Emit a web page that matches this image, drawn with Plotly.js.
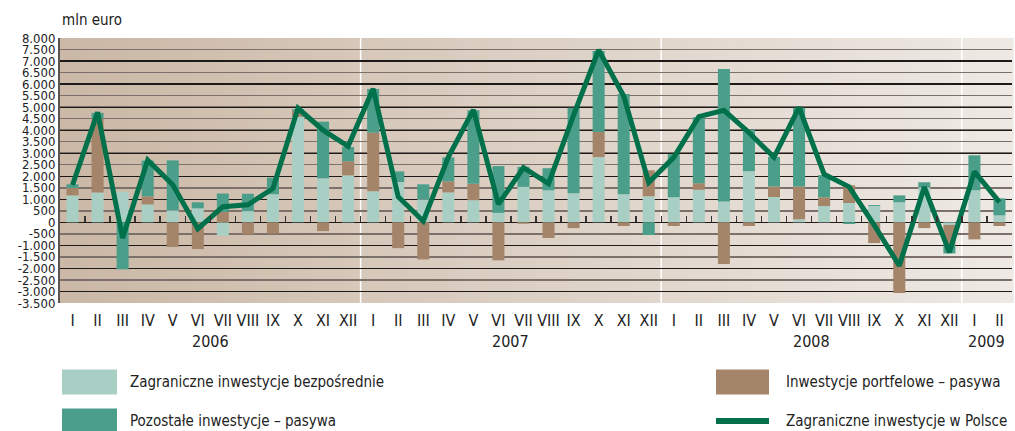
<!DOCTYPE html>
<html>
<head>
<meta charset="utf-8">
<script src="https://cdn.plot.ly/plotly-3.0.1.min.js"></script>
<style>
  html, body { margin: 0; padding: 0; background: #ffffff; }
  #chart { width: 1015px; height: 431px; }
</style>
</head>
<body>
<div id="chart"></div>
<script>
// ---------- data ----------
const months = ['I','II','III','IV','V','VI','VII','VIII','IX','X','XI','XII',
                'I','II','III','IV','V','VI','VII','VIII','IX','X','XI','XII',
                'I','II','III','IV','V','VI','VII','VIII','IX','X','XI','XII',
                'I','II'];
const years = [2006,2006,2006,2006,2006,2006,2006,2006,2006,2006,2006,2006,
               2007,2007,2007,2007,2007,2007,2007,2007,2007,2007,2007,2007,
               2008,2008,2008,2008,2008,2008,2008,2008,2008,2008,2008,2008,
               2009,2009];
// Zagraniczne inwestycje bezpośrednie
const fdi = [1170,1300,1330,780,520,610,-580,490,1220,4580,1910,2040,
             1350,1750,1000,1300,960,410,1540,1390,1260,2830,1220,1130,
             1090,1410,910,2220,1100,130,710,840,710,870,1520,-110,
             1390,300];
// Inwestycje portfelowe – pasywa
const portfolio = [320,3200,0,350,-1070,-1160,450,-520,-490,260,-380,610,
                   2540,-1120,-1610,480,710,-1650,-60,-680,-250,1090,-160,1130,
                   -160,290,-1810,-160,460,1430,380,770,-900,-3070,-250,-870,
                   -740,-160];
// Pozostałe inwestycje – pasywa
const other = [160,250,-2040,1550,2170,260,800,750,720,70,2460,620,
               1900,460,650,1040,3200,2030,870,960,3710,3520,4350,-550,
               1870,2860,5740,1810,1280,3410,960,-70,40,300,220,-370,
               1520,740];
// Zagraniczne inwestycje w Polsce (total)
const total = [1620,4780,-680,2700,1630,-280,680,760,1470,4950,4000,3300,
               5800,1110,50,2830,4880,790,2370,1680,4650,7480,5480,1730,
               2820,4590,4860,3900,2820,4990,2090,1540,-120,-1880,1530,-1300,
               2200,880];
const yTickValues = [8000,7500,7000,6500,6000,5500,5000,4500,4000,3500,3000,2500,2000,1500,1000,500,0,
                     -500,-1000,-1500,-2000,-2500,-3000,-3500];
const yTickLabels = ['8.000','7.500','7.000','6.500','6.000','5.500','5.000','4.500','4.000','3.500',
                     '3.000','2.500','2.000','1.500','1.000','500','0','-500','-1.000','-1.500',
                     '-2.000','-2.500','-3.000','-3.500'];
const yMajorGrid = [8000,7000,6000,5000,4000,3000,2000,1000,0,-1000,-2000,-3000];
const names = ['Zagraniczne inwestycje bezpośrednie','Inwestycje portfelowe – pasywa',
               'Pozostałe inwestycje – pasywa','Zagraniczne inwestycje w Polsce'];
const unitLabel = 'mln euro';

// ---------- styles ----------
const FONT = '"Liberation Sans Narrow", "DejaVu Sans Condensed", "Roboto Condensed", "Open Sans", sans-serif';
const C_FDI = '#a9cfc5';
const C_PORT = '#a4856a';
const C_OTHER = '#4b9e8a';
const C_LINE = '#00714b';

const idx = months.map((m, i) => i);
const yMin = -3500, yMax = 8000;

// plot-area geometry in px (for legend placement)
const W = 1015, H = 431;
const M = {l: 60, r: 3, t: 38, b: 128};
const PW = W - M.l - M.r, PH = H - M.t - M.b;
const px = x => (x - M.l) / PW;
const py = y => (H - M.b - y) / PH;

const traces = [
  {type: 'bar', x: idx, y: fdi, name: names[0], marker: {color: C_FDI, line: {width: 0}}, width: 0.48, hoverinfo: 'y'},
  {type: 'bar', x: idx, y: portfolio, name: names[1], marker: {color: C_PORT, line: {width: 0}}, width: 0.48, hoverinfo: 'y'},
  {type: 'bar', x: idx, y: other, name: names[2], marker: {color: C_OTHER, line: {width: 0}}, width: 0.48, hoverinfo: 'y'},
  {type: 'scatter', mode: 'lines', x: idx, y: total, name: names[3], xaxis: 'x2', yaxis: 'y2',
   line: {color: C_LINE, width: 5}, hoverinfo: 'y'}
];

// background gradient strips
const shapes = [];
const N = 80;
const c0 = [203, 184, 166], c1 = [238, 233, 228];
for (let k = 0; k < N; k++) {
  const t = k / (N - 1);
  const c = c0.map((v, j) => Math.round(v + (c1[j] - v) * t));
  shapes.push({type: 'rect', xref: 'paper', yref: 'paper', x0: k / N, x1: (k + 1) / N + 0.002, y0: 0, y1: 1,
               fillcolor: `rgb(${c[0]},${c[1]},${c[2]})`, line: {width: 0}, layer: 'below'});
}
// year separators
for (let i = 1; i < years.length; i++) {
  if (years[i] !== years[i - 1]) {
    shapes.push({type: 'line', xref: 'x', yref: 'paper', x0: i - 0.5, x1: i - 0.5, y0: 0, y1: 1,
                 line: {color: '#ffffff', width: 1.5}, layer: 'between'});
  }
}

const annotations = [];
// year labels
const uniqYears = [...new Set(years)];
uniqYears.forEach(yr => {
  const ii = idx.filter(i => years[i] === yr);
  const mid = (ii[0] + ii[ii.length - 1]) / 2;
  annotations.push({xref: 'x', yref: 'paper', x: mid, y: py(341), text: String(yr), showarrow: false,
                    xanchor: 'center', yanchor: 'middle', font: {family: FONT, size: 16, color: '#222'}});
});
// unit label
annotations.push({xref: 'paper', yref: 'paper', x: px(60), y: py(20), text: unitLabel, showarrow: false,
                  xanchor: 'left', yanchor: 'middle', font: {family: FONT, size: 15, color: '#222'}});

// custom legend
const legendItems = [
  {name: names[0], color: C_FDI, kind: 'box', x0: 62, x1: 117, yc: 382, tx: 128},
  {name: names[2], color: C_OTHER, kind: 'box', x0: 62, x1: 117, yc: 421, tx: 128},
  {name: names[1], color: C_PORT, kind: 'box', x0: 716, x1: 769, yc: 382, tx: 784},
  {name: names[3], color: C_LINE, kind: 'line', x0: 716, x1: 769, yc: 421, tx: 784}
];
legendItems.forEach(it => {
  if (it.kind === 'box') {
    shapes.push({type: 'rect', xref: 'paper', yref: 'paper', x0: px(it.x0), x1: px(it.x1),
                 y0: py(it.yc + 12.5), y1: py(it.yc - 12.5), fillcolor: it.color, line: {width: 0}, layer: 'above'});
  } else {
    shapes.push({type: 'line', xref: 'paper', yref: 'paper', x0: px(it.x0), x1: px(it.x1),
                 y0: py(it.yc), y1: py(it.yc), line: {color: it.color, width: 6}, layer: 'above'});
  }
  annotations.push({xref: 'paper', yref: 'paper', x: px(it.tx), y: py(it.yc), text: it.name, showarrow: false,
                    xanchor: 'left', yanchor: 'middle', font: {family: FONT, size: 15, color: '#222'}});
});

const layout = {
  width: W, height: H,
  margin: M,
  paper_bgcolor: '#ffffff',
  plot_bgcolor: 'rgba(0,0,0,0)',
  barmode: 'relative',
  bargap: 0.52,
  showlegend: false,
  font: {family: FONT, size: 15, color: '#222'},
  xaxis: {
    range: [-0.5, 37.5], tickmode: 'array', tickvals: idx, ticktext: months,
    showgrid: false, zeroline: false, showline: false, ticks: '',
    tickfont: {family: FONT, size: 16, color: '#222'}, ticklabelstandoff: 6
  },
  xaxis2: {
    overlaying: 'x', matches: 'x', anchor: 'free', position: (0 - yMin) / (yMax - yMin),
    tickmode: 'array', tickvals: idx.slice(1).map(i => i - 0.5).concat([idx.length - 0.5]),
    ticks: 'inside', ticklen: 6, tickwidth: 1.5, tickcolor: '#333',
    showticklabels: false, showgrid: false, zeroline: false, showline: false
  },
  yaxis: {
    range: [yMin, yMax], tickmode: 'array', tickvals: yTickValues, ticktext: yTickLabels,
    showgrid: true, gridcolor: '#7b716a', gridwidth: 1.5, zeroline: false,
    showline: true, linecolor: '#5a5550', linewidth: 2, ticks: '',
    tickfont: {family: FONT, size: 13, color: '#222'}
  },
  yaxis2: {
    overlaying: 'y', matches: 'y', anchor: 'x2', tickmode: 'array', tickvals: yMajorGrid,
    showgrid: true, gridcolor: '#1e1a18', gridwidth: 1.2, zeroline: false,
    showticklabels: false, showline: false, ticks: ''
  },
  shapes: shapes,
  annotations: annotations
};

Plotly.newPlot('chart', traces, layout, {displayModeBar: false, staticPlot: true});
</script>
</body>
</html>
